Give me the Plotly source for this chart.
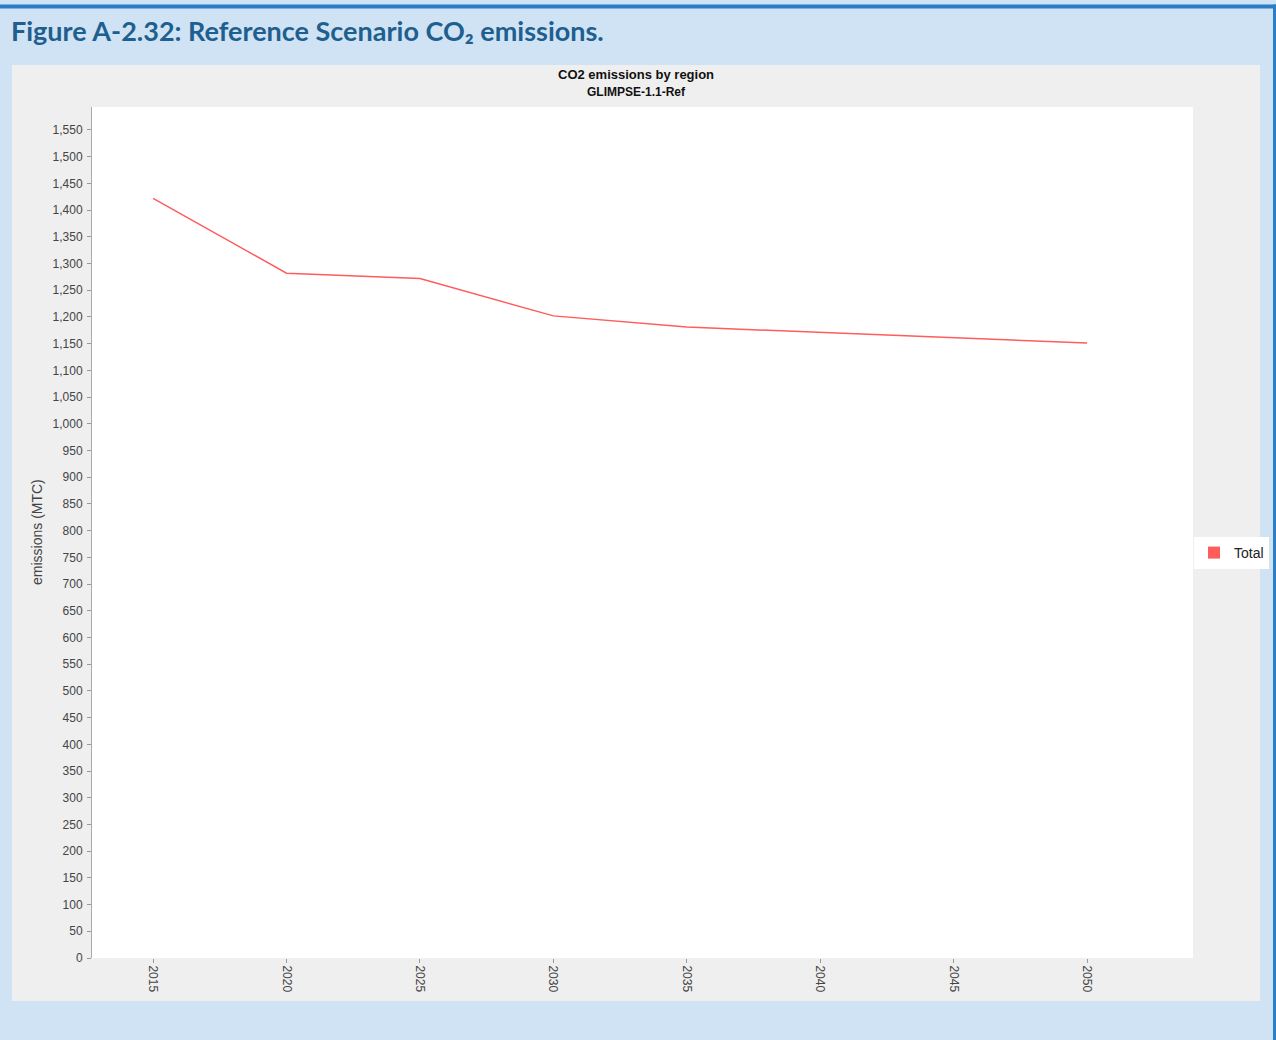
import plotly.graph_objects as go

years = [2015, 2020, 2025, 2030, 2035, 2040, 2045, 2050]
total_emissions = [1422, 1282, 1272, 1202, 1181, 1171, 1161, 1151]
y_ticks = list(range(0, 1551, 50))
series_name = "Total"

W, H = 1276, 1040
L, R, T, B = 92, 1193, 107, 958  # plot area in pixels


def px(x):
    return (x - L) / (R - L)


def py(y):
    return (B - y) / (B - T)


line_color = "#ff5c5c"

fig = go.Figure()
fig.add_trace(go.Scatter(
    x=years, y=total_emissions, mode="lines",
    line=dict(color=line_color, width=1.5),
    showlegend=False, name=series_name,
))
fig.add_trace(go.Scatter(
    x=[None], y=[None], mode="markers",
    marker=dict(symbol="square", size=9, color=line_color),
    name=series_name, showlegend=True,
))

shapes = [
    # grey chart panel
    dict(type="rect", xref="paper", yref="paper", x0=px(12), x1=px(1260), y0=py(1001), y1=py(65),
         fillcolor="#efefef", line=dict(width=0), layer="below"),
    # white plot area
    dict(type="rect", xref="paper", yref="paper", x0=0, x1=1, y0=0, y1=1,
         fillcolor="#ffffff", line=dict(width=0), layer="below"),
    # top blue border
    dict(type="rect", xref="paper", yref="paper", x0=px(0), x1=px(1276), y0=py(8.5), y1=py(4.5),
         fillcolor="#2b7dc5", line=dict(width=0), layer="below"),
    # right blue border
    dict(type="rect", xref="paper", yref="paper", x0=px(1273), x1=px(1277), y0=py(1040), y1=py(4.5),
         fillcolor="#2b7dc5", line=dict(width=0), layer="below"),
]

annotations = [
    dict(text="<b>Figure A-2.32: Reference Scenario CO₂ emissions.</b>", xref="paper", yref="paper",
         x=px(9), y=py(31), xanchor="left", yanchor="middle", showarrow=False,
         font=dict(family="Lato", size=27, color="#1f5f8f")),
    dict(text="<b>CO2 emissions by region</b>", xref="paper", yref="paper",
         x=px(636), y=py(74), xanchor="center", yanchor="middle", showarrow=False,
         font=dict(family="Liberation Sans", size=13, color="#111111")),
    dict(text="<b>GLIMPSE-1.1-Ref</b>", xref="paper", yref="paper",
         x=px(636), y=py(92), xanchor="center", yanchor="middle", showarrow=False,
         font=dict(family="Liberation Sans", size=12, color="#111111")),
    dict(text="emissions (MTC)", xref="paper", yref="paper", textangle=-90,
         x=px(37), y=py(532), xanchor="center", yanchor="middle", showarrow=False,
         font=dict(family="Liberation Sans", size=14, color="#444444")),
]

fig.update_layout(
    width=W, height=H,
    margin=dict(l=L, r=W - R, t=T, b=H - B, pad=0, autoexpand=False),
    paper_bgcolor="#cfe3f5",
    plot_bgcolor="rgba(0,0,0,0)",
    shapes=shapes,
    annotations=annotations,
    showlegend=True,
    legend=dict(x=px(1194), y=py(553), xanchor="left", yanchor="middle",
                bgcolor="#ffffff", font=dict(family="Liberation Sans", size=14, color="#222222"),
                itemsizing="constant", itemwidth=30, borderwidth=0, tracegroupgap=0),
    font=dict(family="Liberation Sans"),
)

fig.update_xaxes(
    range=[2012.71, 2053.97], tickvals=years, ticktext=[str(y) for y in years],
    tickangle=90, ticks="outside", ticklen=4, tickcolor="#999999",
    showgrid=False, zeroline=False, showline=False,
    tickfont=dict(family="Liberation Sans", size=12, color="#444444"),
)
fig.update_yaxes(
    range=[0, 1593], tickvals=y_ticks, ticktext=[f"{v:,}" for v in y_ticks],
    ticks="outside", ticklen=4, tickcolor="#999999", ticklabelstandoff=2,
    showgrid=False, zeroline=False, showline=True, linecolor="#aaaaaa", linewidth=1,
    tickfont=dict(family="Liberation Sans", size=12, color="#444444"),
)

post = (
    "document.documentElement.style.margin='0';"
    "document.documentElement.style.padding='0';"
    "document.documentElement.style.overflow='hidden';"
    "document.body.style.margin='0';"
    "document.body.style.padding='0';"
    "document.body.style.overflow='hidden';"
)
fig.write_html("out.html", post_script=post,
               config={"displayModeBar": False, "responsive": False})
